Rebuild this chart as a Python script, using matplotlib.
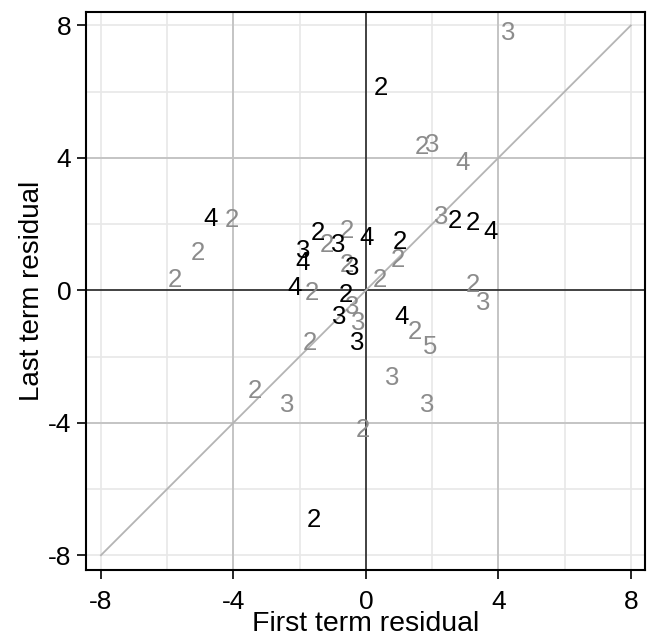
import numpy as np
import matplotlib.pyplot as plt

plt.rcParams['font.family'] = ['Liberation Sans', 'DejaVu Sans']

# black labels (one group)
dark_x = [0.45, -4.7, -1.45, -1.9, -1.9, -0.85, 0.03, -0.4, 1.03, 2.69, 3.23, 3.75, -2.15, -0.6, -0.8, 1.09, -0.27, -1.57]
dark_y = [6.1, 2.15, 1.72, 1.2, 0.82, 1.36, 1.57, 0.66, 1.45, 2.1, 2.04, 1.75, 0.07, -0.15, -0.82, -0.82, -1.6, -6.95]
dark_lab = ['2', '4', '2', '3', '4', '3', '4', '3', '2', '2', '2', '4', '4', '2', '3', '4', '3', '2']

# gray labels (other group)
light_x = [4.29, 1.69, 1.99, 2.93, -4.06, -5.08, -5.77, 2.27, -0.57, -1.18, -0.57, 0.97, 0.42, -1.63, -0.42, -0.24,
           1.48, 1.93, -1.69, 3.23, 3.53, 0.79, 1.84, -3.35, -2.39, -0.09]
light_y = [7.76, 4.32, 4.38, 3.84, 2.11, 1.12, 0.3, 2.21, 1.8, 1.36, 0.76, 0.91, 0.3, -0.09, -0.51, -1.0,
           -1.27, -1.72, -1.6, 0.15, -0.39, -2.66, -3.47, -3.05, -3.47, -4.23]
light_lab = ['3', '2', '3', '4', '2', '2', '2', '3', '2', '2', '2', '2', '2', '2', '3', '3',
             '2', '5', '2', '2', '3', '3', '3', '2', '3', '2']

ticks = [-8, -4, 0, 4, 8]
minor = [-6, -2, 2, 6]

fig = plt.figure(figsize=(6.47, 6.42), dpi=100)
ax = fig.add_axes([0.133, 0.112, 0.864, 0.869])

for v in minor:
    ax.axvline(v, color='#e8e8e8', lw=1.2, zorder=0)
    ax.axhline(v, color='#e8e8e8', lw=1.2, zorder=0)
for v in [-8, 8]:
    ax.axvline(v, color='#e8e8e8', lw=1.2, zorder=0)
    ax.axhline(v, color='#e8e8e8', lw=1.2, zorder=0)
for v in [-4, 4]:
    ax.axvline(v, color='#c4c4c4', lw=1.4, zorder=0)
    ax.axhline(v, color='#c4c4c4', lw=1.4, zorder=0)
ax.axvline(0, color='#333333', lw=1.3, zorder=1)
ax.axhline(0, color='#333333', lw=1.3, zorder=1)

ax.plot([-8, 8], [-8, 8], color='#b4b4b4', lw=1.3, zorder=2)

for x, y, s in zip(light_x, light_y, light_lab):
    ax.text(x, y, s, color='#8c8c8c', fontsize=18.5, ha='center', va='center', zorder=3)
for x, y, s in zip(dark_x, dark_y, dark_lab):
    ax.text(x, y, s, color='black', fontsize=18.5, ha='center', va='center', zorder=4)

ax.set_xlim(-8.45, 8.43)
ax.set_ylim(-8.45, 8.4)
ax.set_xticks(ticks)
ax.set_yticks(ticks)
ax.set_xticklabels([str(t) for t in ticks], fontsize=19)
ax.set_yticklabels([str(t) for t in ticks], fontsize=19)
ax.tick_params(direction='out', length=6.5, width=1.2, color='black')
ax.tick_params(axis='x', pad=8)
ax.tick_params(axis='y', pad=4)
for sp in ax.spines.values():
    sp.set_linewidth(1.5)
ax.set_xlabel('First term residual', fontsize=20.5, labelpad=-2)
ax.set_ylabel('Last term residual', fontsize=20, labelpad=2)

fig.savefig('out.png', dpi=100)
